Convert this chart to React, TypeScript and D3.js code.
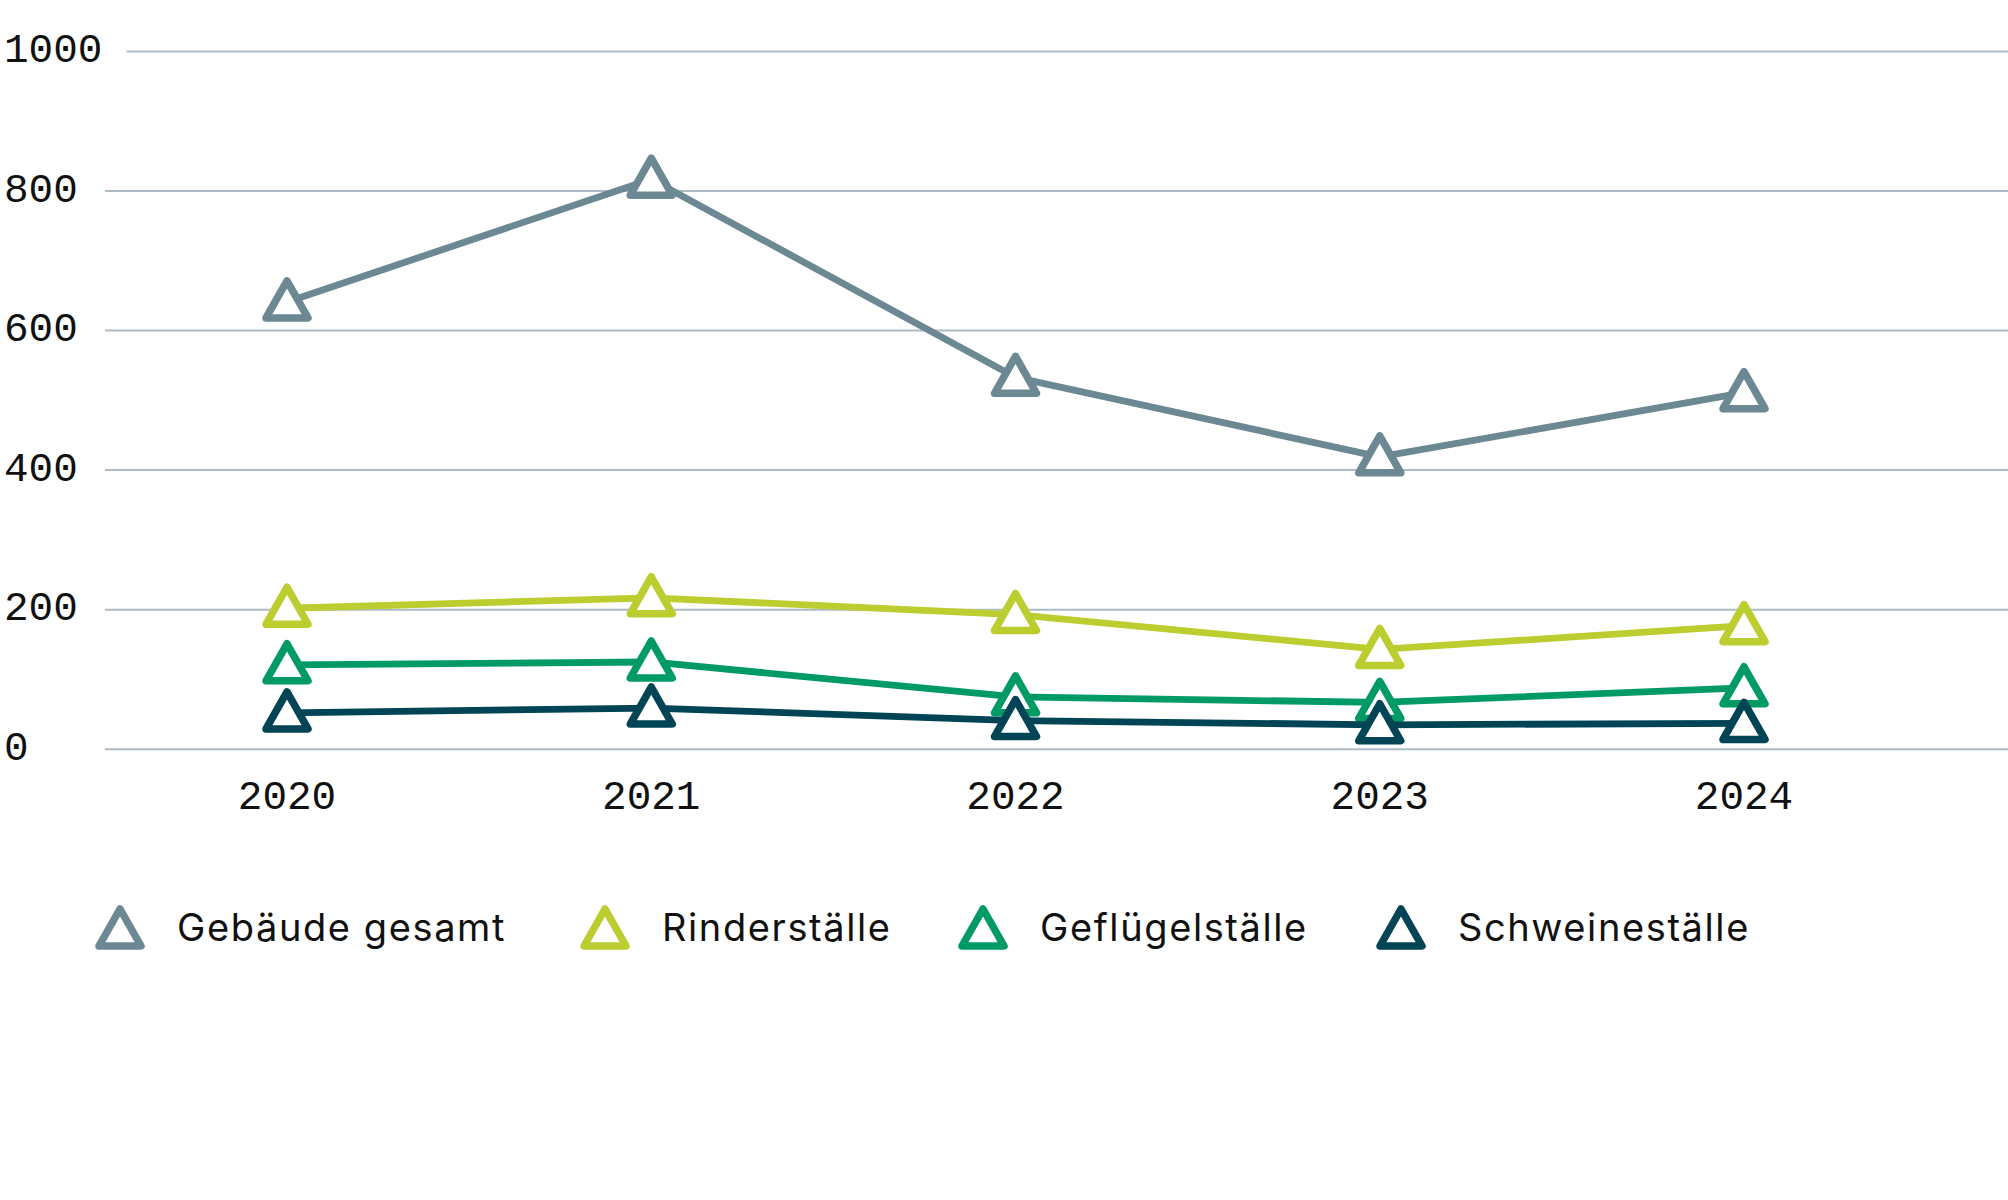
import React from "react";
import * as d3 from "d3";

const years = ["2020", "2021", "2022", "2023", "2024"];
const seriesNames = ["Gebäude gesamt", "Rinderställe", "Geflügelställe", "Schweineställe"];
const gebaeude = [641, 817, 533, 419, 511];
const rinder = [202, 217, 193, 143, 177];
const gefluegel = [121, 125, 75, 67, 88];
const schweine = [52, 59, 41, 35, 37];
const yTicks = [0, 200, 400, 600, 800, 1000];
const colors = ["#6b8893", "#bccd2f", "#009b65", "#004455"];

const W = 2008;
const H = 1200;
const monoFont = "'Liberation Mono', 'DejaVu Sans Mono', monospace";
const sansFont = "Inter, 'Noto Sans', sans-serif";
const monoSize = 41;
const charW = monoSize * 0.6;

const TRI = "M0,-21L21,16L-21,16Z";

export default function App() {
  const seriesValues = [gebaeude, rinder, gefluegel, schweine];
  const x = d3.scalePoint<string>().domain(years).range([287, 1744]);
  const y = d3.scaleLinear().domain([0, 1000]).range([749.2, 51.5]);
  const line = d3
    .line<number>()
    .x((_, i) => x(years[i]) as number)
    .y((d) => y(d));

  const labelX = 4;
  const plotLeft = 105;
  const legendX = [120, 605, 983, 1401];
  const legendY = 930;

  return (
    <svg
      width={W}
      height={H}
      viewBox={`0 0 ${W} ${H}`}
      style={{ position: "absolute", left: 0, top: 0, background: "#fff" }}
    >
      <rect x={0} y={0} width={W} height={H} fill="#fff" />
      {yTicks.map((t) => {
        const label = String(t);
        const x1 = Math.max(plotLeft, labelX + label.length * charW + 24);
        return (
          <g key={t}>
            <line x1={x1} x2={W} y1={y(t)} y2={y(t)} stroke="#adbcc4" strokeWidth={2} />
            <text
              x={labelX}
              y={y(t) + 10.5}
              fontFamily={monoFont}
              fontSize={monoSize}
              fill="#111"
            >
              {label}
            </text>
          </g>
        );
      })}
      {years.map((yr) => (
        <text
          key={yr}
          x={x(yr)}
          y={809}
          textAnchor="middle"
          fontFamily={monoFont}
          fontSize={monoSize}
          fill="#111"
        >
          {yr}
        </text>
      ))}
      {seriesValues.map((vals, si) => (
        <g key={seriesNames[si]}>
          <path
            d={line(vals) || ""}
            fill="none"
            stroke={colors[si]}
            strokeWidth={6.8}
            strokeLinejoin="round"
          />
          {vals.map((v, i) => (
            <path
              key={i}
              d={TRI}
              transform={`translate(${x(years[i])},${y(v)})`}
              fill="#fff"
              stroke={colors[si]}
              strokeWidth={7.5}
              strokeLinejoin="round"
            />
          ))}
        </g>
      ))}
      {seriesNames.map((name, si) => (
        <g key={name}>
          <path
            d={TRI}
            transform={`translate(${legendX[si]},${legendY})`}
            fill="#fff"
            stroke={colors[si]}
            strokeWidth={7.5}
            strokeLinejoin="round"
          />
          <text
            x={legendX[si] + 57}
            y={941}
            fontFamily={sansFont}
            fontSize={38}
            letterSpacing={1.6}
            fill="#111"
          >
            {name}
          </text>
        </g>
      ))}
    </svg>
  );
}
